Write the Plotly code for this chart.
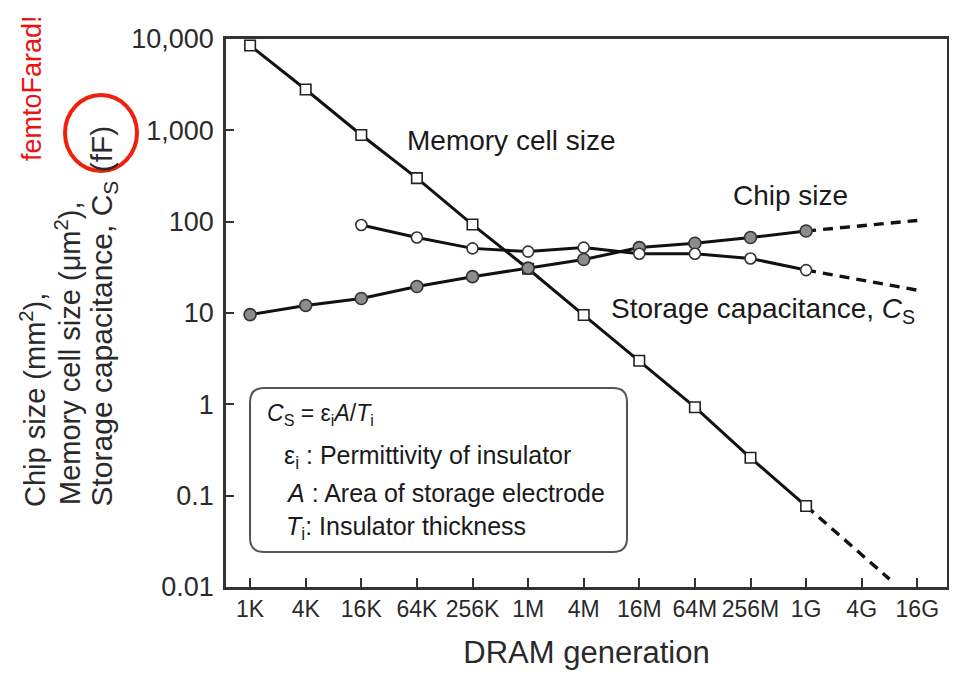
import plotly.graph_objects as go

# ---------------- data ----------------
generations = ["1K", "4K", "16K", "64K", "256K", "1M", "4M", "16M", "64M", "256M", "1G", "4G", "16G"]
gen_index = list(range(len(generations)))

memory_cell_size = [8500, 2800, 890, 300, 93, 30.5, 9.5, 3.0, 0.93, 0.26, 0.077]   # um^2, 1K..1G
chip_size = [9.6, 12.1, 14.4, 19.5, 25, 31, 38.5, 52, 58, 67, 79]                  # mm^2, 1K..1G
storage_cap_gens = ["16K", "64K", "256K", "1M", "4M", "16M", "64M", "256M", "1G"]
storage_cap = [92, 67, 51, 47, 52, 44.5, 44.5, 39.5, 29.5]                            # fF

# projected (dashed) extensions beyond 1G
memory_proj_x = [10, 11.5]
memory_proj = [0.077, 0.0122]
chip_proj_x = [10, 12]
chip_proj = [79, 103]
storage_proj_x = [10, 12]
storage_proj = [29.5, 17.8]

y_tickvals = [0.01, 0.1, 1, 10, 100, 1000, 10000]
y_ticktext = ["0.01", "0.1", "1", "10", "100", "1,000", "10,000"]

# ---------------- layout geometry ----------------
W, H = 957, 674
PAGE_OFF = 8                      # body margin of the html page
# plot frame in page pixels
L, R, T, B = 226, 947, 39, 587


def px(x):
    return (x - L) / (R - L)


def py(y):
    return (B - y) / (B - T)


FONT = "Liberation Sans, Arial, Helvetica, sans-serif"
INK = "#1a1a1a"
LINE = "#111111"

fig = go.Figure()

# dashed projections
for xs, ys in [(memory_proj_x, memory_proj), (chip_proj_x, chip_proj), (storage_proj_x, storage_proj)]:
    fig.add_trace(go.Scatter(x=xs, y=ys, mode="lines",
                             line=dict(color=LINE, width=3.4, dash="10px,7px"),
                             hoverinfo="skip", showlegend=False))

# memory cell size
fig.add_trace(go.Scatter(
    x=gen_index[:len(memory_cell_size)], y=memory_cell_size, mode="lines+markers",
    line=dict(color=LINE, width=3),
    marker=dict(symbol="square", size=10.5, color="white", line=dict(color="#222", width=1.6)),
    name="Memory cell size", showlegend=False))

# chip size
fig.add_trace(go.Scatter(
    x=gen_index[:len(chip_size)], y=chip_size, mode="lines+markers",
    line=dict(color=LINE, width=3),
    marker=dict(symbol="circle", size=12, color="#8c8c8c", line=dict(color="#333", width=1.6)),
    name="Chip size", showlegend=False))

# storage capacitance
fig.add_trace(go.Scatter(
    x=[generations.index(g) for g in storage_cap_gens], y=storage_cap, mode="lines+markers",
    line=dict(color=LINE, width=3),
    marker=dict(symbol="circle", size=11, color="white", line=dict(color="#333", width=1.6)),
    name="Storage capacitance", showlegend=False))

x0 = (L - 250.1) / 55.6
x1 = (R - 250.1) / 55.6

fig.update_xaxes(
    range=[x0, x1], tickmode="array", tickvals=gen_index, ticktext=generations,
    ticks="inside", ticklen=9, tickwidth=2, tickcolor="#333",
    showline=True, linewidth=2.5, linecolor="#333", mirror=True,
    showgrid=False, zeroline=False, automargin=False,
    tickfont=dict(family=FONT, size=23, color="#2a2a2a"),
    title=dict(text="DRAM generation", font=dict(family=FONT, size=31, color="#2a2a2a"), standoff=20),
)
fig.update_yaxes(
    type="log", range=[-2, 4], tickmode="array", tickvals=y_tickvals, ticktext=y_ticktext,
    ticks="inside", ticklen=8, tickwidth=2, tickcolor="#333",
    showline=True, linewidth=2.5, linecolor="#333", mirror=True,
    showgrid=False, zeroline=False, automargin=False,
    tickfont=dict(family=FONT, size=27, color="#2a2a2a"),
    ticklabelstandoff=4,
)

annotations = []


def label(x, y, text, size, color=INK, xanchor="center", yanchor="middle", angle=0):
    annotations.append(dict(x=px(x), y=py(y), xref="paper", yref="paper", text=text,
                            xanchor=xanchor, yanchor=yanchor, textangle=angle,
                            showarrow=False, font=dict(family=FONT, size=size, color=color)))


# curve labels
label(511, 140, "Memory cell size", 28)
label(790, 196, "Chip size", 28)
label(763, 310, "Storage capacitance, <i>C</i><sub>S</sub>", 28)

# formula box text
label(265, 414, "<i>C</i><sub>S</sub> = ε<sub>i</sub><i>A</i>/<i>T</i><sub>i</sub>", 23, xanchor="left")
label(282, 457, "ε<sub>i</sub> : Permittivity of insulator", 25, xanchor="left")
label(284, 493, "<i>A</i> : Area of storage electrode", 25, xanchor="left")
label(284, 528, "<i>T</i><sub>i</sub>: Insulator thickness", 25, xanchor="left")

# y-axis title (three rotated lines, bottom aligned)
label(33, 509, "Chip size (mm<sup>2</sup>),", 29, color="#2a2a2a", yanchor="bottom", angle=-90)
label(68, 507, "Memory cell size (μm<sup>2</sup>),", 29, color="#2a2a2a", yanchor="bottom", angle=-90)
label(103, 509, "Storage capacitance, C<sub>S</sub> (fF)", 30, color="#2a2a2a", yanchor="bottom", angle=-90)

# red note
label(32, 88, "femtoFarad!", 27, color="#ee1111", angle=-90)

# rounded box
bl, br_, bt, bb = px(250), px(627), py(388), py(552)
rx, ry = 14 / (R - L), 14 / (B - T)
path = (f"M {bl+rx},{bt} L {br_-rx},{bt} Q {br_},{bt} {br_},{bt-ry} "
        f"L {br_},{bb+ry} Q {br_},{bb} {br_-rx},{bb} "
        f"L {bl+rx},{bb} Q {bl},{bb} {bl},{bb+ry} "
        f"L {bl},{bt-ry} Q {bl},{bt} {bl+rx},{bt} Z")
shapes = [
    dict(type="path", path=path, xref="paper", yref="paper",
         line=dict(color="#555", width=2), fillcolor="rgba(0,0,0,0)", layer="below"),
    dict(type="circle", xref="paper", yref="paper",
         x0=px(65), x1=px(137), y0=py(171), y1=py(95),
         line=dict(color="#f0200f", width=4)),
]

fig.update_layout(
    width=W, height=H,
    margin=dict(l=L - PAGE_OFF, r=W - (R - PAGE_OFF), t=T - PAGE_OFF, b=H - (B - PAGE_OFF)),
    paper_bgcolor="white", plot_bgcolor="white",
    annotations=annotations, shapes=shapes,
    font=dict(family=FONT),
    showlegend=False,
)

fig.write_html("out.html")
